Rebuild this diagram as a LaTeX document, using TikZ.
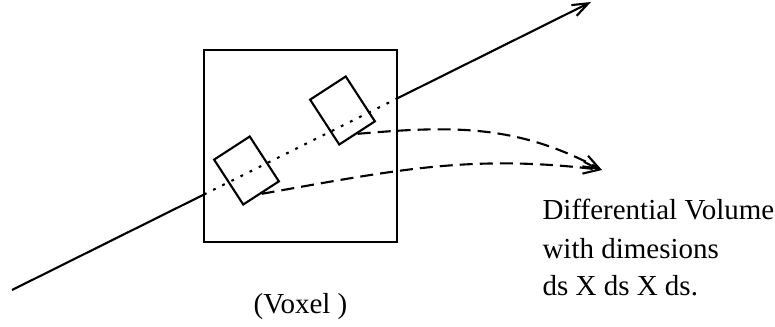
\documentclass[tikz,border=0pt]{standalone}
\usepackage{fontspec}
\setmainfont{Liberation Serif}
\usetikzlibrary{arrows.meta,calc}

\begin{document}
\begin{tikzpicture}[
  line width=1.2pt,
  voxelbox/.style={draw,minimum width=3.86cm,minimum height=3.84cm,inner sep=0pt},
  cell/.style={draw,rotate=33,minimum width=0.85cm,minimum height=1.07cm,inner sep=0pt},
  txt/.style={inner sep=0pt,font=\fontsize{16.5}{20}\selectfont},
  ray/.style={-{Straight Barb[length=3.2mm,width=2.4mm]}},
  flow/.style={dash pattern=on 7.4pt off 4pt,-{Straight Barb[length=3.2mm,width=2.4mm]}}
]
\useasboundingbox (0,0) rectangle (15.5,6.52);
\node[voxelbox] (vox) at (6.01,3.60) {};
\coordinate (src) at (0.24,0.72);
\coordinate (dst) at (11.82,6.48);
\coordinate (enter) at ($(src)!0.3316!(dst)$);
\coordinate (leave) at ($(src)!0.665!(dst)$);
\draw (src) -- (enter);
\draw[dash pattern=on 1.6pt off 4.2pt] (enter) -- (leave);
\draw[ray] (leave) -- (dst);
\node[cell] (c1) at (4.93,3.11) {};
\node[cell] (c2) at (6.85,4.31) {};
\coordinate (tip) at (12.04,3.12);
\draw[flow] (c2.south) to[out=5,in=152] (tip);
\draw[flow] (c1.south) to[out=10,in=173] (tip);
\node[txt,anchor=base] (vlab) at (6.01,0.26) {(Voxel )};
\node[txt,anchor=base west] (d1) at (10.83,2.14) {Differential Volume};
\node[txt,anchor=base west] (d2) at (10.83,1.36) {with dimesions};
\node[txt,anchor=base west] (d3) at (10.83,0.62) {ds X ds X ds.};
\end{tikzpicture}
\end{document}
